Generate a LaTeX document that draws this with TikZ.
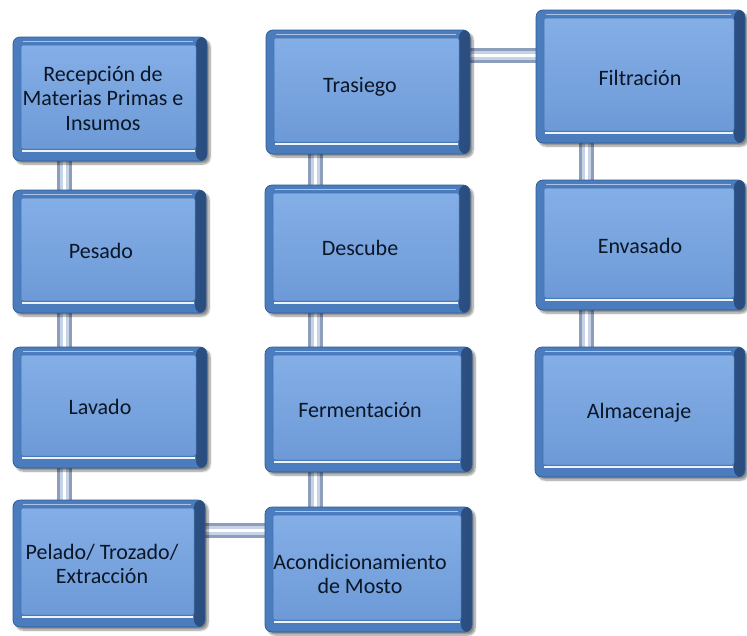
\documentclass[tikz,border=0pt]{standalone}
\usepackage{fontspec}
\setmainfont{Carlito}
\usetikzlibrary{shadows.blur,backgrounds}

\definecolor{frameblue}{HTML}{4A7CBE}
\definecolor{framedark}{HTML}{2A4D7E}
\definecolor{frameline}{HTML}{2E5A92}
\definecolor{facetop}{HTML}{84AEE6}
\definecolor{facebot}{HTML}{6D9AD7}
\definecolor{faceedge}{HTML}{3F6FAE}
\definecolor{textdark}{HTML}{0B1626}
\definecolor{pipeedge}{HTML}{8D9EBB}
\definecolor{pipemid}{HTML}{C6D2E5}

\tikzset{
  stagebox/.style={
    rectangle, rounded corners=7pt, fill=frameblue, draw=frameline,
    line width=0.7pt, inner sep=0pt,
    blur shadow={shadow xshift=3pt, shadow yshift=-3pt,
                 shadow blur steps=8, shadow opacity=45},
    path picture={
      % darker bevel on the right side of the frame
      \shade[left color=frameblue, right color=framedark]
        ([xshift=-11pt]path picture bounding box.north east)
        rectangle (path picture bounding box.south east);
      % raised face
      \shade[top color=facetop, bottom color=facebot, draw=faceedge,
             line width=0.5pt, rounded corners=2pt]
        ([shift={(8pt,-8pt)}]path picture bounding box.north west)
        rectangle ([shift={(-11pt,12pt)}]path picture bounding box.south east);
      % bevel highlights
      \draw[white, opacity=.55, line width=1.3pt]
        ([shift={(10pt,-4.5pt)}]path picture bounding box.north west)
        -- ([shift={(-14pt,-4.5pt)}]path picture bounding box.north east);
      \draw[white, opacity=.9, line width=2.2pt]
        ([shift={(9pt,10pt)}]path picture bounding box.south west)
        -- ([shift={(-12pt,10pt)}]path picture bounding box.south east);
    }},
  stagetext/.style={align=center, inner sep=0pt, text=textdark,
    font=\fontsize{22}{24.5}\selectfont},
  pipe/.style={line width=15pt, draw=pipeedge,
    postaction={draw=pipemid, line width=9pt},
    postaction={draw=white, line width=3pt}},
}

\begin{document}
\begin{tikzpicture}[x=1pt, y=-1pt]
\useasboundingbox (0,0) rectangle (747,635);

% first column
\node[stagebox, minimum width=194pt, minimum height=124pt] (b1) at (110,99) {};
\node[stagebox, minimum width=193pt, minimum height=123pt] (b2) at (109.5,251.5) {};
\node[stagebox, minimum width=194pt, minimum height=121pt] (b3) at (110,407.5) {};
\node[stagebox, minimum width=192pt, minimum height=127pt] (b4) at (109,563.5) {};
% second column
\node[stagebox, minimum width=204pt, minimum height=124pt] (c1) at (368,92) {};
\node[stagebox, minimum width=205pt, minimum height=128pt] (c2) at (367.5,249) {};
\node[stagebox, minimum width=207pt, minimum height=125pt] (c3) at (368.5,409.5) {};
\node[stagebox, minimum width=207pt, minimum height=125pt] (c4) at (368.5,569.5) {};
% third column
\node[stagebox, minimum width=209pt, minimum height=133pt] (d1) at (640.5,76.5) {};
\node[stagebox, minimum width=209pt, minimum height=130pt] (d2) at (640.5,245) {};
\node[stagebox, minimum width=210pt, minimum height=130pt] (d3) at (640,412) {};

% labels
\node[stagetext] (tb1) at (103,98) {Recepción de\\Materias Primas e\\Insumos};
\node[stagetext] (tb2) at (101,251) {Pesado};
\node[stagetext] (tb3) at (100,407) {Lavado};
\node[stagetext] (tb4) at (102,564) {Pelado/ Trozado/\\Extracción};
\node[stagetext] (tc1) at (360,87) {Trasiego};
\node[stagetext] (tc2) at (360,248) {Descube};
\node[stagetext] (tc3) at (360,410) {Fermentación};
\node[stagetext] (tc4) at (360,574) {Acondicionamiento\\de Mosto};
\node[stagetext] (td1) at (640,78) {Filtración};
\node[stagetext] (td2) at (640,246) {Envasado};
\node[stagetext] (td3) at (639,413) {Almacenaje};

% pipe axes
\coordinate (vb) at (64.5,0);
\coordinate (vc) at (315.5,0);
\coordinate (vd) at (586,0);
\coordinate (ht) at (0,55);
\coordinate (hb) at (0,530);

\begin{scope}[on background layer]
  \draw[pipe] (vb |- b1.center) -- (vb |- b2.center);
  \draw[pipe] (vb |- b2.center) -- (vb |- b3.center);
  \draw[pipe] (vb |- b3.center) -- (vb |- b4.center);
  \draw[pipe] (b4.center |- hb) -- (c4.center |- hb);
  \draw[pipe] (vc |- c4.center) -- (vc |- c3.center);
  \draw[pipe] (vc |- c3.center) -- (vc |- c2.center);
  \draw[pipe] (vc |- c2.center) -- (vc |- c1.center);
  \draw[pipe] (c1.center |- ht) -- (d1.center |- ht);
  \draw[pipe] (vd |- d1.center) -- (vd |- d2.center);
  \draw[pipe] (vd |- d2.center) -- (vd |- d3.center);
\end{scope}
\end{tikzpicture}
\end{document}
